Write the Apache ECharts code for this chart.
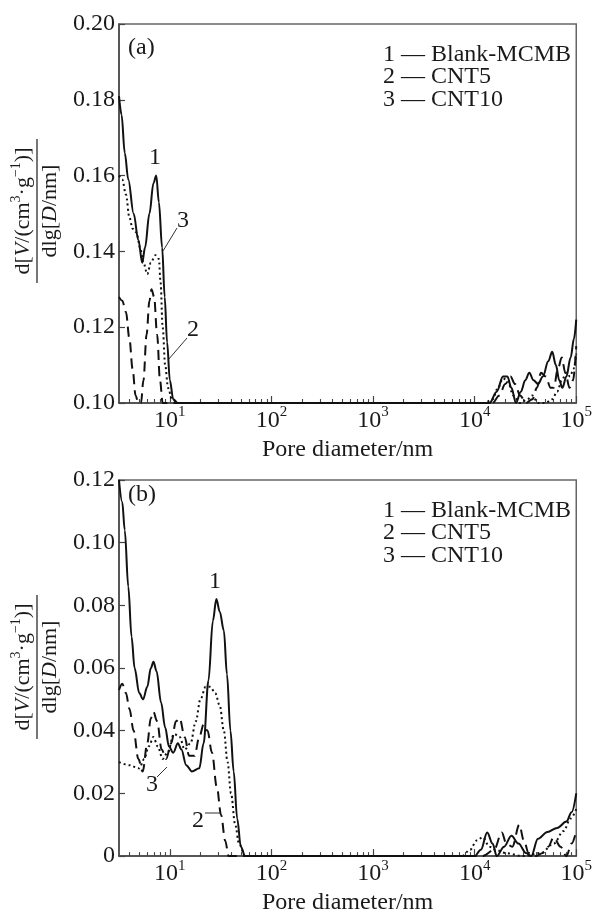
<!DOCTYPE html>
<html><head><meta charset="utf-8">
<script src="https://cdn.jsdelivr.net/npm/echarts@6/dist/echarts.min.js"></script>
<style>html,body{margin:0;padding:0;background:#fff}#c{width:595px;height:916px}</style>
</head><body><div id="c"></div>
<script>
// ---------- data (pore diameter nm, dV/dlgD) ----------
const seriesNames = ['Blank-MCMB', 'CNT5', 'CNT10'];
const xTickValues = [10, 100, 1000, 10000, 100000];
const yRangeA = [0.10, 0.20];
const yRangeB = [0, 0.12];

const aBlank = [[3.16,0.181],[3.35,0.176],[3.6,0.166],[3.9,0.159],[4.4,0.150],[4.9,0.143],[5.35,0.137],[5.7,0.141],[6.3,0.150],[6.9,0.158],[7.35,0.160],[7.8,0.153],[8.4,0.141],[8.9,0.128],[9.4,0.116],[10,0.106],[10.8,0.101],[12,0.100],[14000,0.100],[16500,0.103],[19000,0.107],[21000,0.107],[23000,0.104],[25500,0.100],[28500,0.103],[31500,0.106],[34500,0.108],[38000,0.106],[42000,0.105],[47000,0.107],[53000,0.111],[58000,0.1135],[63000,0.110],[68000,0.106],[73000,0.104],[80000,0.107],[88000,0.112],[95000,0.117],[100000,0.122]];
const aCNT5 = [[3.16,0.128],[3.4,0.127],[3.7,0.124],[4.0,0.117],[4.3,0.109],[4.6,0.102],[4.9,0.100],[5.2,0.100],[5.5,0.106],[5.9,0.118],[6.3,0.127],[6.6,0.130],[7.0,0.128],[7.5,0.118],[8.0,0.106],[8.5,0.100],[15000,0.100],[17500,0.102],[20000,0.105],[22500,0.107],[25000,0.105],[28000,0.102],[32000,0.100],[37000,0.101],[41000,0.104],[45000,0.108],[50000,0.107],[56000,0.104],[60000,0.104],[66000,0.109],[72000,0.112],[78000,0.108],[86000,0.104],[93000,0.106],[100000,0.115]];
const aCNT10 = [[3.16,0.160],[3.4,0.159],[3.7,0.155],[4.0,0.149],[4.3,0.146],[4.7,0.145],[5.1,0.141],[5.5,0.137],[6.0,0.134],[6.5,0.137],[7.2,0.139],[7.8,0.138],[8.1,0.132],[8.5,0.120],[9.0,0.110],[9.6,0.104],[10.5,0.101],[12,0.100],[12500,0.100],[15000,0.101],[17000,0.104],[19000,0.1065],[21000,0.106],[24000,0.102],[28000,0.100],[33000,0.101],[37000,0.102],[42000,0.100],[50000,0.100],[58000,0.101],[65000,0.103],[72000,0.106],[80000,0.108],[87000,0.107],[94000,0.109],[100000,0.113]];

const bBlank = [[3.16,0.120],[3.4,0.113],[3.6,0.104],[3.9,0.086],[4.2,0.070],[4.5,0.060],[5.0,0.052],[5.45,0.050],[6.0,0.054],[6.5,0.060],[6.9,0.062],[7.4,0.059],[8.2,0.049],[9.0,0.041],[9.8,0.035],[10.8,0.033],[12,0.036],[13,0.034],[14.5,0.029],[16.5,0.027],[19.5,0.028],[21.5,0.036],[24,0.056],[26.5,0.075],[28.7,0.082],[31,0.078],[34,0.072],[36.5,0.058],[39.5,0.040],[42.5,0.027],[46,0.012],[50,0.003],[55,0.000],[10000,0.000],[11500,0.002],[13300,0.0075],[15000,0.004],[16500,0.000],[19500,0.003],[23000,0.0065],[27000,0.004],[32000,0.001],[36000,0.000],[42000,0.0055],[52000,0.0077],[65000,0.009],[80000,0.011],[90000,0.014],[100000,0.020]];
const bCNT5 = [[3.16,0.053],[3.4,0.055],[3.7,0.052],[4.0,0.047],[4.4,0.040],[4.9,0.031],[5.4,0.027],[6.0,0.036],[6.5,0.044],[6.9,0.046],[7.5,0.043],[8.3,0.034],[9.2,0.031],[10.3,0.036],[11.5,0.043],[12.5,0.044],[14,0.038],[15.5,0.032],[17.5,0.032],[19.5,0.038],[21.5,0.042],[23.5,0.040],[26,0.033],[29,0.022],[32,0.013],[35,0.005],[38,0.000],[12000,0],[15500,0.002],[18500,0.0075],[20500,0.004],[23500,0.003],[27500,0.010],[30500,0.005],[34000,0.001],[40000,0.000],[47000,0.001],[53000,0.003],[60000,0.006],[70000,0.003],[80000,0.000],[90000,0.004],[100000,0.008]];
const bCNT10 = [[3.16,0.030],[4.0,0.029],[5.0,0.028],[5.6,0.031],[6.2,0.035],[6.9,0.038],[7.6,0.035],[8.5,0.031],[9.5,0.033],[11,0.039],[12.5,0.038],[14,0.034],[16,0.036],[18,0.043],[20,0.050],[22.5,0.054],[25,0.054],[28,0.052],[31,0.048],[34,0.040],[37,0.030],[40,0.020],[44,0.010],[48,0.004],[55,0.000],[7500,0],[9000,0.002],[10500,0.005],[12000,0.006],[14000,0.003],[16000,0.002],[20000,0.001],[30000,0.000],[45000,0.001],[60000,0.004],[75000,0.008],[88000,0.012],[100000,0.015]];

// ---------- chart ----------
const FONT = 'Liberation Serif';
const INK = '#1a1a1a';
const FS = 24;
const X_MIN = 3.16, X_MAX = 100000;
const xMinorTicks = [];
for (let e = 0; e <= 4; e++) for (let k = 2; k <= 9; k++) {
  const v = k * Math.pow(10, e);
  if (v > X_MIN && v < X_MAX) xMinorTicks.push(v);
}
const supDigits = v => String(Math.round(Math.log10(v)));

function xAxes(gridIndex) {
  return [{
    type: 'log', logBase: 10, gridIndex, min: X_MIN, max: X_MAX, position: 'bottom',
    axisLine: {show: true, lineStyle: {color: '#444', width: 1.5}},
    axisTick: {show: true, inside: true, length: 7, customValues: xTickValues, lineStyle: {color: '#444', width: 1.2}},
    axisLabel: {customValues: xTickValues, margin: 2, fontFamily: FONT, fontSize: FS, color: INK, lineHeight: 32,
      formatter: v => '10{s|' + supDigits(v) + '}',
      rich: {s: {fontFamily: FONT, fontSize: 15, verticalAlign: 'top', lineHeight: 15, color: INK}}},
    splitLine: {show: false},
    name: 'Pore diameter/nm', nameLocation: 'middle', nameGap: 33,
    nameTextStyle: {fontFamily: FONT, fontSize: FS, color: INK}
  }, {
    type: 'log', logBase: 10, gridIndex, min: X_MIN, max: X_MAX, position: 'bottom',
    axisLine: {show: false},
    axisTick: {show: true, inside: true, length: 4, customValues: xMinorTicks, lineStyle: {color: '#444', width: 1.1}},
    axisLabel: {show: false},
    splitLine: {show: false}
  }];
}
function yAxis(gridIndex, range) {
  return {
    type: 'value', gridIndex, min: range[0], max: range[1], interval: 0.02,
    axisLine: {show: true, lineStyle: {color: '#444', width: 1.5}},
    axisTick: {show: true, inside: true, length: 6, lineStyle: {color: '#444', width: 1.2}},
    axisLabel: {margin: 4, fontFamily: FONT, fontSize: FS, color: INK,
      formatter: v => (Math.abs(v) < 1e-9 ? '0' : v.toFixed(2))},
    splitLine: {show: false}
  };
}
const styles = [
  {type: 'solid', width: 2},
  {type: [10, 6], width: 2},
  {type: [2, 3], width: 2}
];
function mkSeries(data, i, axisBase, yIdx) {
  return {
    type: 'line', name: seriesNames[i], data, xAxisIndex: axisBase, yAxisIndex: yIdx,
    showSymbol: false, symbol: 'none', smooth: 0.35, smoothMonotone: 'x',
    lineStyle: {color: '#111', width: styles[i].width, type: styles[i].type},
    animation: false, z: 3
  };
}
function yTitle(cy) {
  return {
    type: 'group', x: 37, y: cy, rotation: Math.PI / 2,
    children: [
      {type: 'text', x: 0, y: -14, style: {
        text: 'd[{i|V}/(cm{s|3}·g{s|−1})]', fontFamily: FONT, fontSize: 22, fill: INK,
        align: 'center', verticalAlign: 'middle', lineHeight: 28,
        rich: {i: {fontFamily: FONT, fontStyle: 'italic', fontSize: 22, fill: INK, lineHeight: 28},
               s: {fontFamily: FONT, fontSize: 14, fill: INK, verticalAlign: 'top', lineHeight: 14}}}},
      {type: 'line', shape: {x1: -72, y1: 0, x2: 72, y2: 0}, style: {stroke: INK, lineWidth: 1.2}},
      {type: 'text', x: 0, y: 13, style: {
        text: 'dlg[{i|D}/nm]', fontFamily: FONT, fontSize: 22, fill: INK,
        align: 'center', verticalAlign: 'middle',
        rich: {i: {fontFamily: FONT, fontStyle: 'italic', fontSize: 22, fill: INK}}}}
    ]
  };
}
function txt(x, y, s, align) {
  return {type: 'text', x, y, style: {text: s, fontFamily: FONT, fontSize: FS, fill: INK, align: align || 'left', verticalAlign: 'middle'}};
}
function ln(x1, y1, x2, y2) {
  return {type: 'line', shape: {x1, y1, x2, y2}, style: {stroke: '#333', lineWidth: 1}};
}
function legendBlock(top) {
  return {type: 'text', x: 383, y: top, style: {
    text: seriesNames.map((n, i) => (i + 1) + ' — ' + n).join('\n'),
    fontFamily: FONT, fontSize: FS, lineHeight: 22.5, fill: INK, align: 'left', verticalAlign: 'top'}};
}

const chart = echarts.init(document.getElementById('c'), null, {renderer: 'canvas'});
chart.setOption({
  backgroundColor: '#fff',
  animation: false,
  grid: [
    {left: 119, right: 9, top: 24, height: 379, show: true, borderColor: '#666', borderWidth: 1.5, backgroundColor: 'transparent'},
    {left: 119, right: 10, top: 480, height: 377, show: true, borderColor: '#666', borderWidth: 1.5, backgroundColor: 'transparent'}
  ],
  xAxis: [...xAxes(0), ...xAxes(1)],
  yAxis: [yAxis(0, yRangeA), yAxis(1, yRangeB)],
  series: [
    mkSeries(aBlank, 0, 0, 0), mkSeries(aCNT5, 1, 0, 0), mkSeries(aCNT10, 2, 0, 0),
    mkSeries(bBlank, 0, 2, 1), mkSeries(bCNT5, 1, 2, 1), mkSeries(bCNT10, 2, 2, 1)
  ],
  graphic: [
    yTitle(211), yTitle(667),
    legendBlock(43), legendBlock(499),
    txt(128, 48, '(a)'), txt(128, 495, '(b)'),
    // panel (a) curve labels
    txt(155, 158, '1', 'center'),
    txt(183, 221, '3', 'center'), ln(177, 228, 163, 251),
    txt(193, 330, '2', 'center'), ln(187, 338, 168, 360),
    // panel (b) curve labels
    txt(215, 582, '1', 'center'),
    txt(152, 785, '3', 'center'), ln(157, 777, 167, 767),
    txt(198, 821, '2', 'center'), ln(205, 813, 221, 813)
  ]
});
</script></body></html>
